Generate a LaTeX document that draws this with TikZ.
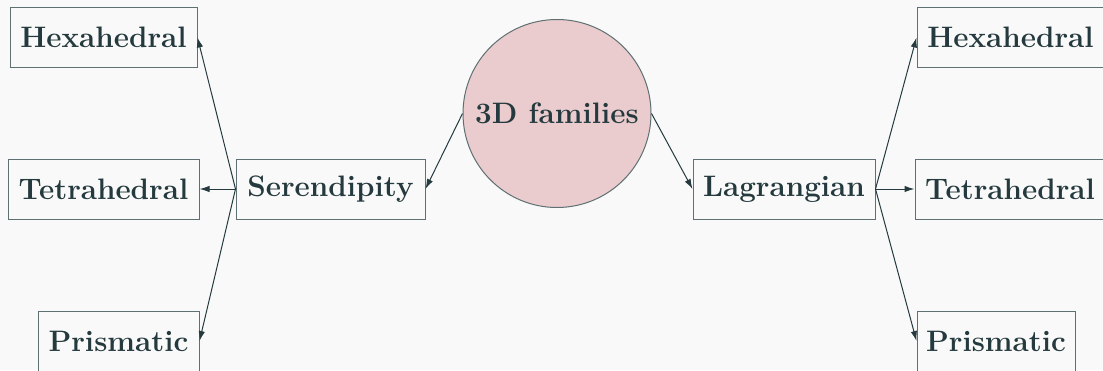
\documentclass[tikz,border=0pt]{standalone}
\usetikzlibrary{arrows.meta}
\definecolor{pagebg}{HTML}{F9F9F9}
\definecolor{ink}{HTML}{253A3E}
\definecolor{edge}{HTML}{5F7073}
\definecolor{rootfill}{HTML}{EBCCCE}
\begin{document}
\begin{tikzpicture}[x=0.5pt,y=-0.5pt,
  font=\fontsize{14.8}{17.5}\selectfont\bfseries,
  family/.style={draw=edge, line width=0.5pt, fill=pagebg, text=ink,
    rectangle, inner sep=0pt, minimum height=30pt},
  root/.style={draw=edge, line width=0.5pt, fill=rootfill, text=ink,
    circle, inner sep=0pt, minimum size=94pt},
  arr/.style={draw=ink, line width=0.5pt, -{Latex[length=5pt,width=3.2pt]}}]
  % page
  \fill[pagebg] (0,0) rectangle (1103,370);
  \useasboundingbox (0,0) rectangle (1103,370);

  % central family
  \node[root] (fam) at (557,113.5) {3D families};

  % serendipity branch
  \node[family, minimum width=94.5pt] (ser)  at (330.5,189) {Serendipity};
  \node[family, minimum width=93.5pt] (hexL) at (103.5,37.5) {Hexahedral};
  \node[family, minimum width=95.5pt] (tetL) at (103.5,189) {Tetrahedral};
  \node[family, minimum width=80.5pt] (priL) at (118.5,341) {Prismatic};

  % lagrangian branch
  \node[family, minimum width=91pt]   (lag)  at (784,189) {Lagrangian};
  \node[family, minimum width=93.5pt] (hexR) at (1010.5,37.5) {Hexahedral};
  \node[family, minimum width=95pt]   (tetR) at (1010,189) {Tetrahedral};
  \node[family, minimum width=79pt]   (priR) at (996,341) {Prismatic};

  % connectors
  \draw[arr] (fam.west) -- (ser.east);
  \draw[arr] (fam.east) -- (lag.west);
  \draw[arr] (ser.west) -- (hexL.east);
  \draw[arr] (ser.west) -- (tetL.east);
  \draw[arr] (ser.west) -- (priL.east);
  \draw[arr] (lag.east) -- (hexR.west);
  \draw[arr] (lag.east) -- (tetR.west);
  \draw[arr] (lag.east) -- (priR.west);
\end{tikzpicture}
\end{document}
